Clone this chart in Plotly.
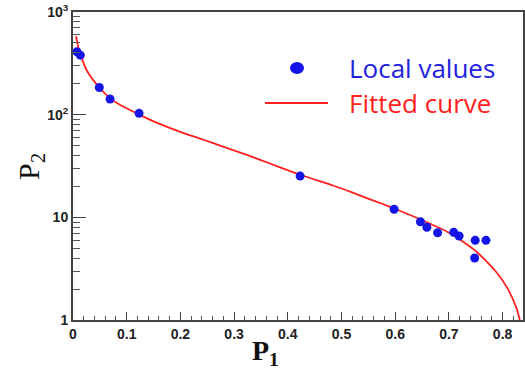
import plotly.graph_objects as go

# Local values (scatter points)
p1_local = [0.0074, 0.0136, 0.049, 0.069, 0.123, 0.423, 0.598, 0.647, 0.659, 0.679,
            0.709, 0.719, 0.749, 0.769, 0.748]
p2_local = [410, 380, 184, 142, 103, 25.2, 12.0, 9.06, 8.0, 7.08,
            7.14, 6.58, 5.97, 5.97, 4.02]

# Fitted curve
p1_fit = [0.0056, 0.010, 0.015, 0.026, 0.049, 0.069, 0.088, 0.124, 0.150, 0.200,
          0.243, 0.274, 0.324, 0.373, 0.423, 0.485, 0.516, 0.547, 0.578, 0.598,
          0.640, 0.702, 0.752, 0.789, 0.810, 0.826, 0.832]
p2_fit = [583, 450, 370, 268, 184, 145, 124, 100, 86, 68,
          57, 50, 40.5, 32.5, 26.0, 20.3, 17.8, 15.4, 13.4, 12.2,
          9.9, 7.0, 4.6, 2.9, 2.0, 1.30, 1.0]

y_tickvals = [1, 10, 100, 1000]
y_ticktext = ["1", "10", "10<sup>2</sup>", "10<sup>3</sup>"]
x_tickvals = [0, 0.1, 0.2, 0.3, 0.4, 0.5, 0.6, 0.7, 0.8]
x_ticktext = ["0", "0.1", "0.2", "0.3", "0.4", "0.5", "0.6", "0.7", "0.8"]
y_minor = [m * d for d in (1, 10, 100) for m in range(2, 10)]

fig = go.Figure()
fig.add_trace(go.Scatter(x=p1_fit, y=p2_fit, mode="lines",
                         line=dict(color="#ff2020", width=1.8, shape="spline", smoothing=0.6),
                         showlegend=False))
fig.add_trace(go.Scatter(x=p1_local, y=p2_local, mode="markers",
                         marker=dict(color="#1414e6", size=9, line=dict(width=0)), showlegend=False))

tickfont = dict(family="Liberation Sans", size=14, color="#222", weight="bold")

L, R, T, B = 73, 2, 12, 60
PW, PH = 525 - L - R, 380 - T - B

fig.update_layout(
    width=525, height=380,
    margin=dict(l=L, r=R, t=T, b=B, autoexpand=False),
    paper_bgcolor="white", plot_bgcolor="white",
    xaxis=dict(range=[0, 0.838], tickvals=x_tickvals, ticktext=x_ticktext, automargin=False,
               ticks="inside", ticklen=8, tickwidth=1.3, tickcolor="#444",
               showline=True, linecolor="#444", linewidth=2, mirror=True,
               showgrid=False, zeroline=False, tickfont=tickfont,
               minor=dict(dtick=0.02, ticks="inside", ticklen=4, tickcolor="#555", tickwidth=1, showgrid=False)),
    yaxis=dict(type="log", range=[0, 3], tickvals=y_tickvals, ticktext=y_ticktext, automargin=False,
               ticks="inside", ticklen=13, tickwidth=1.3, tickcolor="#444",
               showline=True, linecolor="#444", linewidth=2, mirror=True,
               showgrid=False, zeroline=False, tickfont=tickfont,
               minor=dict(tickvals=y_minor, ticks="inside", ticklen=7, tickcolor="#555", tickwidth=1, showgrid=False)),
)

def px(x):
    return (x - L) / PW

def py(y):
    return (380 - B - y) / PH

# Axis titles
fig.add_annotation(xref="paper", yref="paper", x=px(265), y=py(352), text="P<sub>1</sub>",
                   showarrow=False, xanchor="center", yanchor="middle",
                   font=dict(family="Liberation Serif", size=28, color="#111", weight="bold"))
fig.add_annotation(xref="paper", yref="paper", x=px(31), y=py(167), text="P<sub>2</sub>", textangle=-90,
                   showarrow=False, xanchor="center", yanchor="middle",
                   font=dict(family="Liberation Serif", size=30, color="#111"))

# Legend drawn manually
fig.add_shape(type="circle", xref="paper", yref="paper",
              x0=px(290), x1=px(304), y0=py(74), y1=py(62),
              fillcolor="#1414e6", line=dict(width=0))
fig.add_shape(type="line", xref="paper", yref="paper",
              x0=px(265), x1=px(328), y0=py(103), y1=py(103),
              line=dict(color="#ff2020", width=2))
fig.add_annotation(xref="paper", yref="paper", x=px(347), y=py(68),
                   text="Local values", showarrow=False, xanchor="left", yanchor="middle",
                   font=dict(family="Open Sans", size=26, color="#2222dd"))
fig.add_annotation(xref="paper", yref="paper", x=px(347), y=py(103),
                   text="Fitted curve", showarrow=False, xanchor="left", yanchor="middle",
                   font=dict(family="Open Sans", size=26, color="#ff2020"))

fig.write_html("out.html", config={"displayModeBar": False},
               post_script="document.body.style.margin='0';")
